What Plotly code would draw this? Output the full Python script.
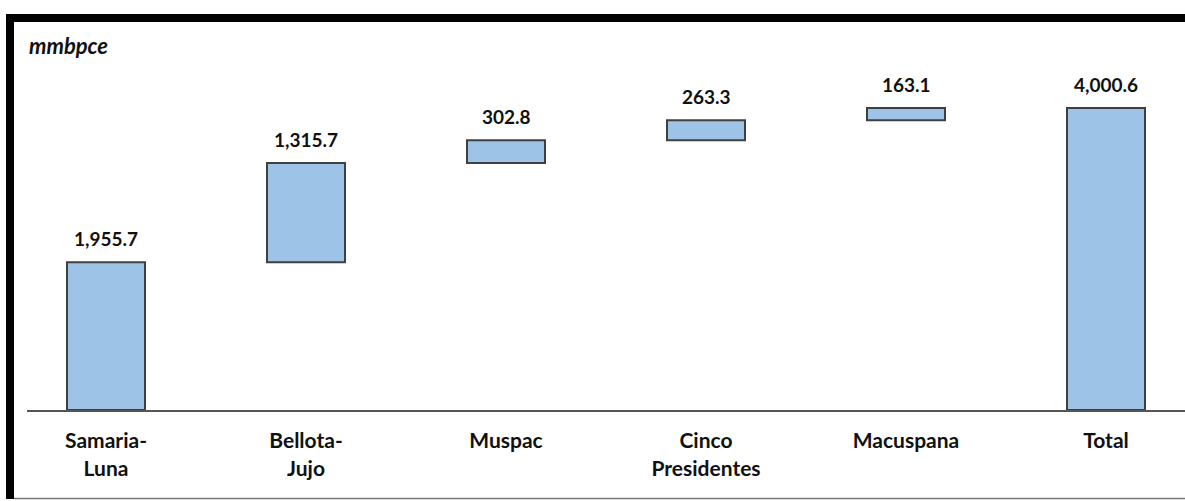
import plotly.graph_objects as go

categories = ["Samaria-<br>Luna", "Bellota-<br>Jujo", "Muspac", "Cinco<br>Presidentes", "Macuspana", "Total"]
values = [1955.7, 1315.7, 302.8, 263.3, 163.1, 4000.6]
measures = ["relative", "relative", "relative", "relative", "relative", "total"]
labels = ["1,955.7", "1,315.7", "302.8", "263.3", "163.1", "4,000.6"]

W, H = 1185, 501
L, R, T, B = 27, 0, 22, 91
pw, ph = W - L - R, H - T - B

def px(x):
    return (x - L) / pw

def py(y):
    return (H - B - y) / ph

fill = "#9DC3E6"
edge = "#404040"

# top of each bar, from the data
tops = []
run = 0.0
for v, m in zip(values, measures):
    if m == "total":
        tops.append(run)
    else:
        run += v
        tops.append(run)

fig = go.Figure(go.Waterfall(
    x=categories, y=values, measure=measures,
    increasing=dict(marker=dict(color=fill, line=dict(color=edge, width=2))),
    decreasing=dict(marker=dict(color=fill, line=dict(color=edge, width=2))),
    totals=dict(marker=dict(color=fill, line=dict(color=edge, width=2))),
    connector=dict(visible=False),
    width=0.39,
    hoverinfo="skip",
))

annotations = [
    dict(text="<b><i>mmbpce</i></b>", xref="paper", yref="paper", x=px(27), y=py(45),
         xanchor="left", yanchor="middle", showarrow=False,
         font=dict(family="Lato", size=22, color="#111111")),
]
for c, t, lab in zip(categories, tops, labels):
    annotations.append(dict(text="<b>" + lab + "</b>", x=c, y=t, xref="x", yref="y",
                            xanchor="center", yanchor="bottom", yshift=10, showarrow=False,
                            font=dict(family="Lato", size=19, color="#111111")))

fig.update_layout(
    width=W, height=H,
    margin=dict(l=L, r=R, t=T, b=B),
    plot_bgcolor="white", paper_bgcolor="white",
    showlegend=False,
    xaxis=dict(range=[-0.395, 5.395], showline=True, linecolor="#555555", linewidth=2,
               ticks="", showgrid=False, zeroline=False,
               tickfont=dict(family="Lato", size=21, color="#111111", weight="bold"),
               ticklabelstandoff=11),
    yaxis=dict(range=[0, 5140], visible=False, showgrid=False, zeroline=False),
    shapes=[
        dict(type="rect", xref="paper", yref="paper", x0=px(6), x1=px(14), y0=py(499), y1=py(14),
             fillcolor="black", line=dict(width=0), layer="above"),
        dict(type="rect", xref="paper", yref="paper", x0=px(6), x1=px(W), y0=py(22), y1=py(14),
             fillcolor="black", line=dict(width=0), layer="above"),
        dict(type="line", xref="paper", yref="paper", x0=px(14), x1=px(W), y0=py(498.5), y1=py(498.5),
             line=dict(color="#777777", width=1.5), layer="above"),
    ],
    annotations=annotations,
)

fig.write_html(
    "out.html",
    config={"displayModeBar": False},
    post_script="document.body.style.margin='0px';document.body.style.padding='0px';document.body.style.overflow='hidden';document.documentElement.style.overflow='hidden';",
)
